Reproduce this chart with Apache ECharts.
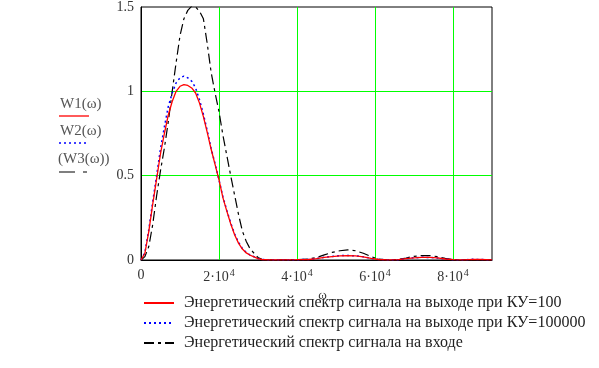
<!DOCTYPE html>
<html><head><meta charset="utf-8">
<script src="https://cdn.jsdelivr.net/npm/echarts@6/dist/echarts.min.js"></script>
<style>html,body{margin:0;padding:0;background:#fff}#c{width:599px;height:368px}</style>
</head><body><div id="c"></div>
<script>
var omega = [0,1000,2000,3000,4000,5000,6000,7000,8000,9000,10000,11000,12000,13000,14000,15000,16000,17000,18000,19000,20000,21000,22000,23000,24000,25000,26000,27000,28000,29000,30000,31000,
  33000,36000,40000,43000,45000,47000,49000,51000,53000,55000,57000,59000,61000,63000,66000,68000,70000,72000,74000,76000,78000,80000,83000,85000,87000,90000];
var w1 = [0,0.04,0.17,0.33,0.48,0.63,0.75,0.86,0.94,1.0,1.03,1.04,1.035,1.02,0.99,0.93,0.85,0.755,0.655,0.565,0.475,0.37,0.29,0.215,0.15,0.10,0.065,0.042,0.028,0.018,0.008,0.003,
  0.001,0.001,0.002,0.003,0.008,0.015,0.02,0.025,0.026,0.024,0.018,0.01,0.003,0.001,0.002,0.008,0.013,0.016,0.015,0.012,0.006,0.002,0.001,0.004,0.003,0.001];
var w2 = [0,0.045,0.18,0.345,0.50,0.66,0.79,0.91,0.99,1.05,1.08,1.09,1.08,1.06,1.02,0.95,0.865,0.765,0.66,0.57,0.475,0.375,0.295,0.22,0.155,0.105,0.068,0.044,0.029,0.019,0.009,0.003,
  0.001,0.001,0.002,0.003,0.008,0.016,0.021,0.026,0.027,0.025,0.019,0.01,0.003,0.001,0.002,0.008,0.013,0.016,0.015,0.012,0.006,0.002,0.001,0.004,0.003,0.001];
var w3 = [0,0.02,0.08,0.21,0.38,0.53,0.665,0.82,1.0,1.17,1.33,1.43,1.48,1.505,1.5,1.475,1.43,1.28,1.11,0.99,0.88,0.74,0.62,0.50,0.385,0.27,0.17,0.11,0.065,0.04,0.015,0.004,
  0.001,0.001,0.002,0.006,0.015,0.03,0.045,0.055,0.06,0.055,0.04,0.02,0.005,0.001,0.003,0.012,0.022,0.026,0.026,0.02,0.01,0.003,0.001,0.002,0.002,0.001];
var xTickValues = [0,20000,40000,60000,80000];
var xTickLabels = ['0','2·10^4','4·10^4','6·10^4','8·10^4'];
var seriesNames = ['Энергетический спектр сигнала на выходе при КУ=100',
                   'Энергетический спектр сигнала на выходе при КУ=100000',
                   'Энергетический спектр сигнала на входе'];
var sideLabels = ['W1(ω)','W2(ω)','(W3(ω))'];

function pairs(ys){ return omega.map(function(x,i){ return [x, ys[i]]; }); }
var serif = '"Liberation Serif","Times New Roman",serif';
var chart = echarts.init(document.getElementById('c'), null, {renderer:'canvas'});
chart.setOption({
  animation:false,
  backgroundColor:'#fff',
  grid:{left:141, top:5, width:351, height:255, show:true, borderColor:'#000', borderWidth:1, backgroundColor:'transparent'},
  xAxis:{type:'value', min:0, max:90000, interval:20000,
    name:'ω', nameLocation:'middle', nameGap:27,
    nameTextStyle:{fontFamily:serif, fontSize:13, color:'#333', padding:[0,0,0,12]},
    axisLine:{lineStyle:{color:'#000', width:1}}, axisTick:{show:false},
    splitLine:{show:true, showMinLine:false, showMaxLine:false, lineStyle:{color:'#00ff00', width:1}},
    axisLabel:{showMaxLabel:false, margin:8, fontFamily:serif, fontSize:14, color:'#333',
      formatter:function(v){ var i = xTickValues.indexOf(v); if(i<0) return ''; var p = xTickLabels[i].split('^');
        return p.length>1 ? '{m|'+p[0]+'}{e|'+p[1]+'}' : '{m|'+p[0]+'}'; },
      rich:{m:{fontFamily:serif, fontSize:14, color:'#333'}, e:{fontFamily:serif, fontSize:10, color:'#333', verticalAlign:'bottom', padding:[0,0,8,1]}}}},
  yAxis:{type:'value', min:0, max:1.5, interval:0.5,
    axisLine:{show:true, lineStyle:{color:'#000', width:1}}, axisTick:{show:false},
    splitLine:{show:true, showMinLine:false, showMaxLine:false, lineStyle:{color:'#00ff00', width:1}},
    axisLabel:{margin:7, fontFamily:serif, fontSize:14, color:'#333'}},
  legend:{orient:'vertical', left:138, top:290, itemWidth:30, itemHeight:10, itemGap:4,
    itemStyle:{opacity:0},
    textStyle:{fontFamily:serif, fontSize:16, color:'#222', padding:[0,0,0,5]},
    data:seriesNames},
  series:[
    {name:seriesNames[0], type:'line', data:pairs(w1), showSymbol:false, symbol:'none', z:4,
      lineStyle:{color:'#ff0000', width:1.3}, itemStyle:{color:'#ff0000'}},
    {name:seriesNames[1], type:'line', data:pairs(w2), showSymbol:false, symbol:'none', z:3,
      lineStyle:{color:'#0000ff', width:1.5, type:[2,3]}, itemStyle:{color:'#0000ff'}},
    {name:seriesNames[2], type:'line', data:pairs(w3), showSymbol:false, symbol:'none', z:2,
      lineStyle:{color:'#000', width:1.2, type:[10,4,3,4]}, itemStyle:{color:'#000'}}
  ],
  graphic:[
    {type:'text', left:60, top:97, style:{text:sideLabels[0], font:'15px '+serif, fill:'#555'}},
    {type:'line', shape:{x1:59,y1:116,x2:89,y2:116}, style:{stroke:'#ff0000', lineWidth:1.3}},
    {type:'text', left:60, top:124, style:{text:sideLabels[1], font:'15px '+serif, fill:'#555'}},
    {type:'line', shape:{x1:59,y1:143,x2:87,y2:143}, style:{stroke:'#0000ff', lineWidth:1.5, lineDash:[2,3]}},
    {type:'text', left:58, top:152, style:{text:sideLabels[2], font:'15px '+serif, fill:'#555'}},
    {type:'line', shape:{x1:59,y1:172,x2:87,y2:172}, style:{stroke:'#000', lineWidth:1.2, lineDash:[16,8,4,10]}}
  ]
});
</script></body></html>
